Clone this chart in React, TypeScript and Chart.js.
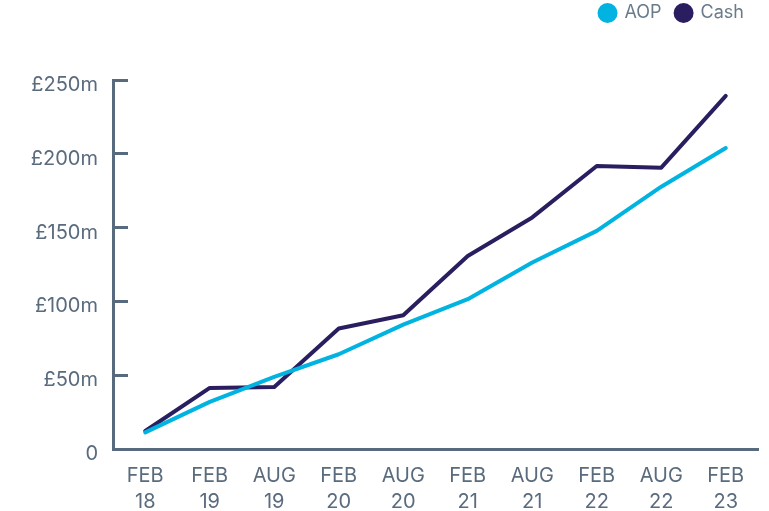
import React, { useEffect, useRef } from "react";
import { Chart, registerables } from "chart.js";

Chart.register(...registerables);

const categories: string[][] = [
  ["FEB", "18"], ["FEB", "19"], ["AUG", "19"], ["FEB", "20"], ["AUG", "20"],
  ["FEB", "21"], ["AUG", "21"], ["FEB", "22"], ["AUG", "22"], ["FEB", "23"],
];
const aopValues = [11.3, 31.9, 48.8, 64.2, 84.3, 101.5, 126.4, 147.8, 177.7, 203.9];
const cashValues = [12.2, 41.4, 42, 81.6, 90.6, 130.7, 156.9, 191.7, 190.6, 239.2];
const yTickValues = [0, 50, 100, 150, 200, 250];
const yTickLabels = ["0", "£50m", "£100m", "£150m", "£200m", "£250m"];

const AXIS = "#576a7e";
const LABEL = "#5a6b7d";
const AOP_COLOR = "#00b3e0";
const CASH_COLOR = "#2a1e60";

const legendSpacer = {
  id: "legendSpacer",
  beforeLayout(chart: any) {
    const legend = chart.legend;
    if (legend && !legend._patched) {
      const orig = legend.fit;
      legend.fit = function () {
        orig.call(this);
        this.height = 90;
      };
      legend._patched = true;
    }
  },
};

export default function App() {
  const ref = useRef<HTMLCanvasElement | null>(null);
  useEffect(() => {
    if (!ref.current) return;
    const chart = new Chart(ref.current, {
      type: "line",
      data: {
        labels: categories,
        datasets: [
          {
            label: "AOP",
            data: aopValues,
            borderColor: AOP_COLOR,
            backgroundColor: AOP_COLOR,
            borderWidth: 4,
            pointRadius: 0,
            borderCapStyle: "round",
            borderJoinStyle: "round",
            tension: 0,
          },
          {
            label: "Cash",
            data: cashValues,
            borderColor: CASH_COLOR,
            backgroundColor: CASH_COLOR,
            borderWidth: 4,
            pointRadius: 0,
            borderCapStyle: "round",
            borderJoinStyle: "round",
            tension: 0,
          },
        ],
      },
      options: {
        responsive: false,
        animation: false,
        layout: { padding: { top: -10, right: 11, left: 0, bottom: 0 } },
        plugins: {
          tooltip: { enabled: false },
          legend: {
            position: "top",
            align: "end",
            labels: {
              usePointStyle: true,
              pointStyle: "circle",
              pointStyleWidth: 16,
              boxHeight: 11.3,
              boxWidth: 16,
              padding: 14,
              color: "#6b7b8b",
              font: { family: "Inter", size: 18 },
            },
          },
        },
        scales: {
          x: {
            type: "category",
            offset: true,
            afterFit: (scale: any) => {
              scale.height = 62;
            },
            grid: { display: false, drawTicks: false },
            border: { display: true, color: AXIS, width: 3 },
            ticks: {
              color: LABEL,
              padding: 14,
              maxRotation: 0,
              autoSkip: false,
              font: { family: "Inter", size: 20, lineHeight: 1.3 },
            },
          },
          y: {
            min: 0,
            max: 250,
            afterFit: (scale: any) => {
              scale.width = 113;
            },
            afterBuildTicks: (scale: any) => {
              scale.ticks = yTickValues.map((v) => ({ value: v }));
            },
            grid: {
              drawOnChartArea: false,
              drawTicks: true,
              tickLength: -15,
              tickWidth: 3,
              tickColor: AXIS,
              color: AXIS,
              lineWidth: 3,
            },
            border: { display: true, color: AXIS, width: 3 },
            ticks: {
              color: LABEL,
              padding: 30,
              labelOffset: 5,
              font: { family: "Inter", size: 20 },
              callback: (value: any) => {
                const i = yTickValues.indexOf(Number(value));
                return i >= 0 ? yTickLabels[i] : "";
              },
            },
          },
        },
      },
      plugins: [legendSpacer],
    });
    return () => chart.destroy();
  }, []);
  return (
    <div style={{ position: "absolute", left: 0, top: 0, width: 769, height: 511 }}>
      <canvas ref={ref} width={769} height={511} style={{ display: "block" }} />
    </div>
  );
}
